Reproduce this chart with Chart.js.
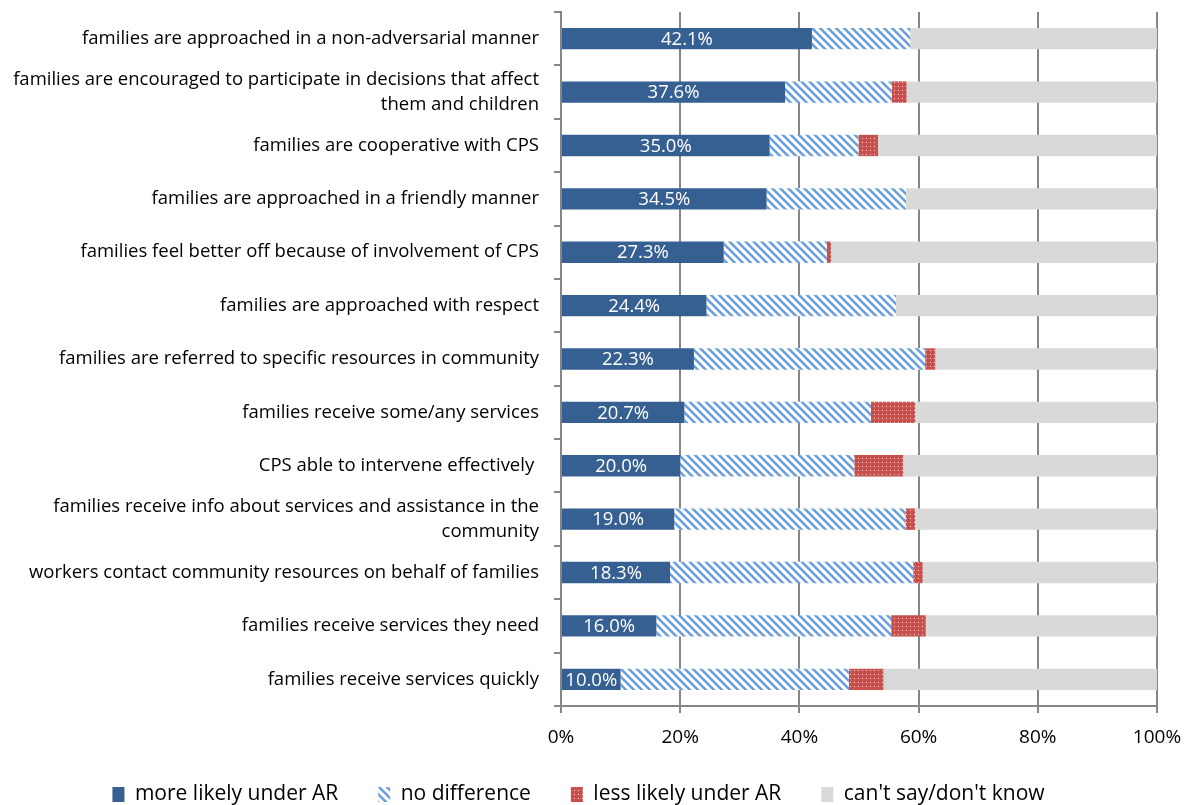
<!DOCTYPE html>
<html>
<head>
<meta charset="utf-8">
<script src="https://cdn.jsdelivr.net/npm/chart.js@4.4.0/dist/chart.umd.min.js"></script>
<style>
  html, body { margin: 0; padding: 0; background: #ffffff; }
  #wrap { width: 1191px; height: 805px; }
</style>
</head>
<body>
<div id="wrap"><canvas id="grafico" width="1191" height="805"></canvas></div>
<script>
const categorias = [
    'families are approached in a non-adversarial manner',
    ['families are encouraged to participate in decisions that affect', 'them and children'],
    'families are cooperative with CPS',
    'families are approached in a friendly manner',
    'families feel better off because of involvement of CPS',
    'families are approached with respect',
    'families are referred to specific resources in community',
    'families receive some/any services',
    'CPS able to intervene effectively ',
    ['families receive info about services and assistance in the', 'community'],
    'workers contact community resources on behalf of families',
    'families receive services they need',
    'families receive services quickly'
];
const masProbable = [42.1, 37.6, 35.0, 34.5, 27.3, 24.4, 22.3, 20.7, 20.0, 19.0, 18.3, 16.0, 10.0];
const sinDiferencia = [16.5, 17.9, 14.9, 23.4, 17.3, 31.8, 38.8, 31.3, 29.2, 38.8, 40.8, 39.4, 38.3];
const menosProbable = [0, 2.5, 3.3, 0, 0.7, 0, 1.7, 7.4, 8.2, 1.6, 1.6, 5.8, 5.8];
const noSabe = [41.4, 42.0, 46.8, 42.1, 54.7, 43.8, 37.2, 40.6, 42.6, 40.6, 39.3, 38.8, 45.9];
const etiquetasSerie = ['more likely under AR', 'no difference', 'less likely under AR', "can't say/don't know"];

const fuente = '"Open Sans"';

function patronRayas() {
    const c = document.createElement('canvas');
    c.width = 8; c.height = 8;
    const g = c.getContext('2d');
    g.fillStyle = '#ffffff';
    g.fillRect(0, 0, 8, 8);
    g.strokeStyle = '#6a9fdc';
    g.lineWidth = 2.6;
    g.beginPath();
    g.moveTo(-2, -2); g.lineTo(10, 10);
    g.moveTo(-6, 2); g.lineTo(2, 10);
    g.moveTo(6, -2); g.lineTo(14, 6);
    g.stroke();
    return g.createPattern(c, 'repeat');
}

function patronPuntos() {
    const c = document.createElement('canvas');
    c.width = 4; c.height = 4;
    const g = c.getContext('2d');
    g.fillStyle = '#c9504d';
    g.fillRect(0, 0, 4, 4);
    g.fillStyle = '#f3d4d3';
    g.fillRect(2, 2, 1, 1);
    return g.createPattern(c, 'repeat');
}

// etiquetas blancas dentro de la barra azul
const etiquetasBarras = {
    id: 'etiquetasBarras',
    afterDatasetsDraw(chart) {
        const ctx = chart.ctx;
        const meta = chart.getDatasetMeta(0);
        ctx.save();
        ctx.font = '18.5px ' + fuente;
        ctx.fillStyle = '#ffffff';
        ctx.textAlign = 'center';
        ctx.textBaseline = 'middle';
        meta.data.forEach((bar, i) => {
            const x = (bar.x + bar.base) / 2;
            ctx.fillText(masProbable[i].toFixed(1) + '%', x, bar.y + 1);
        });
        ctx.restore();
    }
};

const ctx = document.getElementById('grafico').getContext('2d');
const miGrafico = new Chart(ctx, {
    type: 'bar',
    data: {
        labels: categorias,
        datasets: [
            { label: etiquetasSerie[0], data: masProbable, backgroundColor: '#376092' },
            { label: etiquetasSerie[1], data: sinDiferencia, backgroundColor: patronRayas() },
            { label: etiquetasSerie[2], data: menosProbable, backgroundColor: patronPuntos() },
            { label: etiquetasSerie[3], data: noSabe, backgroundColor: '#d9d9d9' }
        ]
    },
    options: {
        indexAxis: 'y',
        responsive: false,
        animation: false,
        layout: { padding: { top: 12, right: 34, left: 0, bottom: 0 } },
        datasets: { bar: { categoryPercentage: 1, barPercentage: 0.4 } },
        scales: {
            x: {
                stacked: true,
                min: 0,
                max: 100,
                ticks: {
                    stepSize: 20,
                    maxRotation: 0,
                    minRotation: 0,
                    color: '#000000',
                    font: { family: fuente, size: 19 },
                    padding: 13.5,
                    callback: v => v + '%'
                },
                grid: { color: '#868686', lineWidth: 2, tickLength: 7 },
                border: { color: '#868686', width: 2 },
                afterFit(scale) {
                    scale.height = 38;
                    scale.paddingLeft = 0;
                    scale.paddingRight = 0;
                }
            },
            y: {
                stacked: true,
                ticks: {
                    autoSkip: false,
                    color: '#000000',
                    font: { family: fuente, size: 18.5, lineHeight: 1.35 },
                    padding: 15
                },
                grid: { drawOnChartArea: false, color: '#868686', lineWidth: 2, tickLength: 7 },
                border: { color: '#868686', width: 2 },
                afterFit(scale) {
                    scale.width = 561;
                    scale.paddingTop = 0;
                    scale.paddingBottom = 0;
                }
            }
        },
        plugins: {
            legend: {
                position: 'bottom',
                maxHeight: 61,
                labels: {
                    color: '#000000',
                    font: { family: fuente, size: 21 },
                    boxWidth: 12,
                    boxHeight: 15,
                    padding: 40
                }
            },
            tooltip: { enabled: false }
        }
    },
    plugins: [etiquetasBarras]
});
</script>
</body>
</html>
